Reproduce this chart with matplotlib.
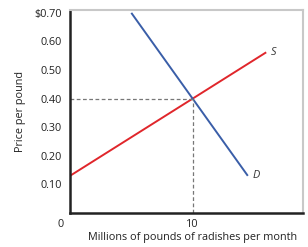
import matplotlib
matplotlib.use("Agg")
import matplotlib.pyplot as plt
import numpy as np

# Data
supply_q = [0, 16]
supply_p = [0.13, 0.562]
demand_q = [5.0, 14.5]
demand_p = [0.70, 0.13]
eq_q = 10
eq_p = 0.40
ytick_vals = [0, 0.10, 0.20, 0.30, 0.40, 0.50, 0.60, 0.70]
ytick_labels = ["0", "0.10", "0.20", "0.30", "0.40", "0.50", "0.60", "$0.70"]
xtick_vals = [10]
xtick_labels = ["10"]

plt.rcParams['font.family'] = ['Open Sans', 'DejaVu Sans']
FS = 7.8

fig = plt.figure(figsize=(3.08, 2.47), dpi=100)
ax = fig.add_axes([70/308, 1-213/247, (303-70)/308, (213-10)/247])

ax.plot(supply_q, supply_p, color='#e0262b', lw=1.4, solid_capstyle='butt')
ax.plot(demand_q, demand_p, color='#3a5ea8', lw=1.4, solid_capstyle='butt')
ax.plot([0, eq_q], [eq_p, eq_p], color='#777777', lw=0.9, ls=(0, (3, 2)))
ax.plot([eq_q, eq_q], [0, eq_p], color='#777777', lw=0.9, ls=(0, (3, 2)))

ax.text(supply_q[1] + 0.4, supply_p[1], 'S', fontsize=FS, style='italic',
        va='center', ha='left', color='#333333')
ax.text(demand_q[1] + 0.4, demand_p[1], 'D', fontsize=FS, style='italic',
        va='center', ha='left', color='#333333')

ax.set_xlim(0, 19)
ax.set_ylim(0, 0.71)

ax.set_yticks(ytick_vals[1:])
ax.set_yticklabels(ytick_labels[1:], fontsize=FS, color='#222222')
ax.set_xticks(xtick_vals)
ax.set_xticklabels(xtick_labels, fontsize=FS, color='#222222')
ax.tick_params(axis='y', length=0, pad=6)
ax.tick_params(axis='x', length=0, pad=4)
ax.text(-0.8, -0.022, '0', fontsize=FS, ha='center', va='top', color='#222222',
        transform=ax.transData)

for s in ['left', 'bottom']:
    ax.spines[s].set_linewidth(1.8)
    ax.spines[s].set_color('#222222')
for s in ['top', 'right']:
    ax.spines[s].set_linewidth(1.5)
    ax.spines[s].set_color('#c8c8c8')

ax.set_ylabel('Price per pound', fontsize=FS, color='#222222')
ax.yaxis.set_label_coords(-0.19, 0.5)
ax.set_xlabel('Millions of pounds of radishes per month', fontsize=FS,
              color='#222222')
ax.xaxis.set_label_coords(0.524, -0.095)

fig.savefig('out.png', dpi=100)
